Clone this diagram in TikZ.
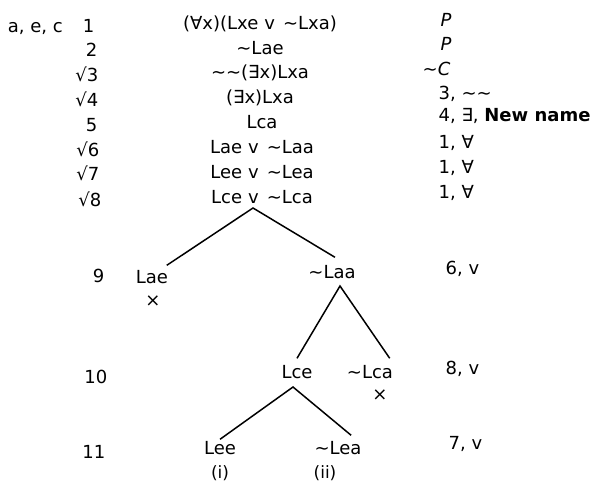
\documentclass[tikz,border=0pt]{standalone}
\usepackage{fontspec}
\setmainfont{DejaVu Sans}
\usepackage{tikz}
\usetikzlibrary{arrows.meta,positioning}

\newcommand{\orv}{\hspace{6pt}v\hspace{8pt}}

\tikzset{
  lbl/.style={font=\fontsize{18}{21}\selectfont,inner sep=1.5pt,text height=13pt,text depth=4pt},
  num/.style={lbl,anchor=base east},
  fml/.style={lbl,anchor=base},
  why/.style={lbl,anchor=base west},
  cross/.style={font=\fontsize{18}{21}\selectfont,inner sep=0pt},
  branch/.style={line width=1.5pt}
}

\begin{document}
\begin{tikzpicture}[x=1pt,y=-1pt]
\useasboundingbox (0,0) rectangle (605,482);

% line numbers
\node[num] (n1) at (96,32) {a, e, c\hspace{20pt}1};
\node[num] (n2) at (99,56) {2};
\node[num] (n3) at (100,81) {√3};
\node[num] (n4) at (100,106) {√4};
\node[num] (n5) at (99,131) {5};
\node[num] (n6) at (101,156) {√6};
\node[num] (n7) at (101,180) {√7};
\node[num] (n8) at (103,206) {√8};
\node[num] (n9) at (106,282) {9};
\node[num] (n10) at (109,383) {10};
\node[num] (n11) at (107,458) {11};

% trunk
\node[fml] (f1) at (260,29) {(∀x)(Lxe\orv∼Lxa)};
\node[fml] (f2) at (260,54) {∼Lae};
\node[fml] (f3) at (260,78) {∼∼(∃x)Lxa};
\node[fml] (f4) at (260,103) {(∃x)Lxa};
\node[fml] (f5) at (262,128) {Lca};
\node[fml] (f6) at (262,153) {Lae\orv∼Laa};
\node[fml] (f7) at (262,178) {Lee\orv∼Lea};
\node[fml] (f8) at (262,203) {Lce\orv∼Lca};

% justifications
\node[why] (r1) at (439,26) {\textit{P}};
\node[why] (r2) at (439,50) {\textit{P}};
\node[why] (r3) at (421,75) {∼\textit{C}};
\node[why] (r4) at (437,99) {3, ∼∼};
\node[why] (r5) at (437,121) {4, ∃, \textbf{New name}};
\node[why] (r6) at (437,148) {1, ∀};
\node[why] (r7) at (437,173) {1, ∀};
\node[why] (r8) at (437,198) {1, ∀};
\node[why] (r9) at (444,274) {6, v};
\node[why] (r10) at (444,374) {8, v};
\node[why] (r11) at (447,449) {7, v};

% tree
\node[fml] (lae) at (152,283) {Lae};
\node[cross] (xlae) at (153,301) {×};
\node[fml] (nlaa) at (332,278) {∼Laa};
\node[fml] (lce) at (297,378) {Lce};
\node[fml] (nlca) at (370,378) {∼Lca};
\node[cross] (xlca) at (380,395) {×};
\node[fml] (lee) at (220,454) {Lee};
\node[fml] (nlea) at (338,454) {∼Lea};
\node[fml,font=\fontsize{17}{20}\selectfont] (tagi) at (220,478) {(i)};
\node[fml,font=\fontsize{17}{20}\selectfont] (tagii) at (325,478) {(ii)};

\coordinate (fork8) at (253,208);
\coordinate (fork9) at (340,286);
\coordinate (fork10) at (293,387);
\draw[branch] ([xshift=-3pt,yshift=3pt]lae.north east) -- (fork8) -- ([xshift=3pt,yshift=6pt]nlaa.north);
\draw[branch] ([yshift=5pt]lce.north) -- (fork9) -- ([xshift=-5pt,yshift=5pt]nlca.north east);
\draw[branch] (lee.north) -- (fork10) -- ([xshift=-12pt,yshift=4pt]nlea.north east);
\end{tikzpicture}
\end{document}
